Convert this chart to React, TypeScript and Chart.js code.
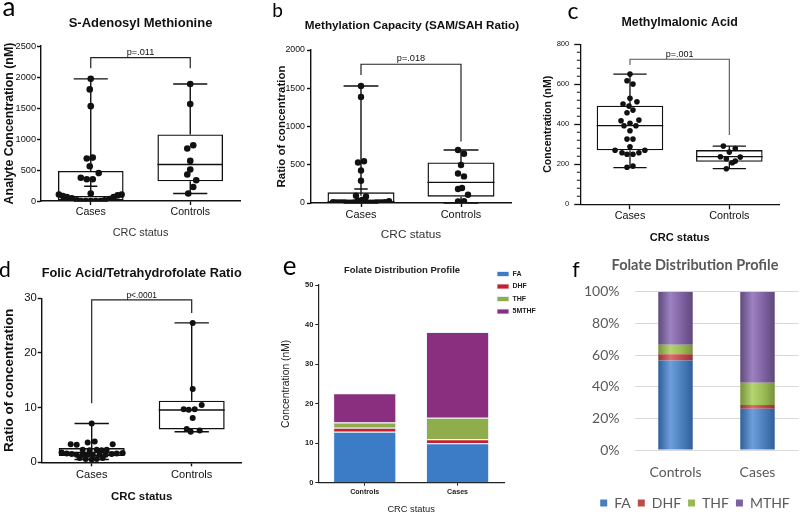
import React, { useEffect, useRef } from "react";
import { Chart, registerables } from "chart.js";

Chart.register(...registerables);

/* ======================= DATA ======================= */
const boxGroups = ["Cases", "Controls"];

// (a) S-Adenosyl Methionine, nM
const samCases = [1970, 1800, 1530, 700, 685, 560, 450, 375, 350, 350, 120, 103, 81, 65, 44, 11, 0, 0, 0, 0, 0, 11, 33, 65, 90, 103];
const samCasesJitter = [0, -0.01, 0, 0.02, -0.04, -0.01, 0.08, -0.1, -0.04, 0.02, 0, -0.32, -0.28, -0.24, -0.19, -0.14, -0.1, -0.05, 0, 0.05, 0.1, 0.14, 0.19, 0.23, 0.27, 0.31];
const samControls = [1886, 1563, 900, 847, 647, 507, 427, 334, 226, 120];
const samControlsJitter = [0, 0, 0.03, -0.03, 0, 0, -0.03, 0.06, 0.03, -0.02];
const samWhiskerLow = [0, 120];
const samQ1 = [8, 318];
const samMedian = [70, 588];
const samQ3 = [485, 1073];
const samWhiskerHigh = [1970, 1886];
const samMean = [237, null];
const samBracket = [2311, 2140, 2140];
const samP = "p=.011";
const samAxis = [0, 2500, 500];

// (b) Methylation capacity, SAM/SAH ratio
const ratioCases = [1530, 1387, 545, 530, 425, 290, 95, 85, 10, 8, 8, 6, 6, 5, 5, 8, 30, 12, 40, 25, 8, 5, 5, 6, 6, 8, 10, 25];
const ratioCasesJitter = [0, 0, 0.03, -0.03, 0, 0, -0.05, 0.05, -0.28, -0.25, -0.22, -0.19, -0.16, -0.13, -0.1, -0.07, -0.03, -0.02, 0.01, 0.04, 0.06, 0.09, 0.12, 0.15, 0.18, 0.21, 0.24, 0.28];
const ratioControls = [692, 643, 496, 386, 348, 183, 196, 108, 21, 25];
const ratioControlsJitter = [-0.03, 0.03, 0, -0.03, 0.03, -0.03, 0.01, 0.07, -0.03, 0.03];
const ratioWhiskerLow = [0, 0];
const ratioQ1 = [2, 82];
const ratioMedian = [15, 269];
const ratioQ3 = [140, 530];
const ratioWhiskerHigh = [1530, 692];
const ratioMean = [183, null];
const ratioBracket = [1814, 1674, 804];
const ratioP = "p=.018";
const ratioAxis = [0, 2000, 500];

// (c) Methylmalonic acid, nM
const mmaCases = [651, 618, 601, 530, 513, 501, 491, 471, 458, 421, 418, 405, 393, 393, 368, 326, 326, 288, 270, 270, 258, 258, 250, 250, 191, 185];
const mmaCasesJitter = [0, -0.03, 0.03, 0, 0.07, -0.07, -0.01, 0.03, -0.03, 0.09, -0.09, 0, -0.06, 0.06, 0, -0.03, 0.03, 0, -0.15, 0.15, -0.08, 0.09, -0.03, 0.03, 0.03, -0.03];
const mmaControls = [291, 279, 261, 238, 228, 236, 216, 208, 178];
const mmaControlsJitter = [-0.06, 0.06, 0, -0.09, -0.03, 0.11, 0.06, 0.03, -0.03];
const mmaWhiskerLow = [183, 178];
const mmaQ1 = [270, 213];
const mmaMedian = [393, 238];
const mmaQ3 = [493, 271];
const mmaWhiskerHigh = [651, 291];
const mmaMean = [null, null];
const mmaBracket = [725, 697, 347];
const mmaP = "p=.001";
const mmaAxis = [0, 800, 200];
const mmaMinorStep = 40;

// (d) Folic acid / tetrahydrofolate ratio
const fathfCases = [7.1, 3.3, 3.2, 3.6, 3.8, 3.3, 2.3, 2.2, 2.3, 2.2, 2.3, 1.8, 1.6, 1.5, 1.4, 1.4, 1.4, 1.4, 1.4, 1.4, 1.5, 1.6, 1.7, 0.8, 0.6, 0.5, 0.6, 0.8];
const fathfCasesJitter = [0, -0.21, -0.15, -0.04, 0.03, 0.21, -0.09, -0.02, 0.05, 0.1, 0.15, -0.3, -0.25, -0.2, -0.15, -0.09, -0.04, 0.01, 0.08, 0.14, 0.2, 0.25, 0.31, -0.12, -0.06, 0, 0.05, 0.11];
const fathfControls = [25.5, 13.4, 10.5, 9.7, 9.6, 9.7, 8.1, 6.1, 5.8, 5.6];
const fathfControlsJitter = [0.01, 0.01, 0.1, -0.08, -0.03, 0.03, 0.01, -0.05, 0.08, -0.01];
const fathfWhiskerLow = [0.5, 5.6];
const fathfQ1 = [1.15, 6.0];
const fathfMedian = [1.8, 9.57];
const fathfQ3 = [2.6, 11.27];
const fathfWhiskerHigh = [7.1, 25.5];
const fathfMean = [null, null];
const fathfBracket = [29.7, 10.8, 27.3];
const fathfP = "p<.0001";
const fathfAxis = [0, 30, 10];

// (e) Folate distribution profile, nM (stacked)
const folateGroups = ["Controls", "Cases"];
const folateFA = [12.9, 10.0];
const folateDHF = [1.0, 1.0];
const folateTHF = [1.3, 5.4];
const folate5MTHF = [7.4, 21.7];
const folateAxis = [0, 50, 10];

// (f) Folate distribution profile, % (100% stacked)
const pctFA = [56.5, 26];
const pctDHF = [4, 2.5];
const pctTHF = [6, 14];
const pctMTHF = [33.5, 57.5];
const pctAxis = [0, 100, 20];

/* ======================= FONTS ======================= */
const AR = "'Liberation Sans', Arial, Helvetica, sans-serif";
const LATO = "Lato, 'Open Sans', sans-serif";
Chart.defaults.font.family = AR;

let narrowOK: boolean | null = null;
function hasFont(name: string) {
  try {
    const ctx = document.createElement("canvas").getContext("2d");
    if (!ctx) return false;
    const sample = "mmmmmmmmmmlliWWabcdef0123456789";
    ctx.font = "40px monospace";
    const a = ctx.measureText(sample).width;
    ctx.font = `40px '${name}', monospace`;
    const b = ctx.measureText(sample).width;
    return Math.abs(a - b) > 0.5;
  } catch (e) {
    return false;
  }
}
function nf(size: number, weight = "normal") {
  if (narrowOK === null) narrowOK = hasFont("Liberation Sans Narrow");
  return narrowOK
    ? { family: "'Liberation Sans Narrow', " + AR, size, weight }
    : { family: AR, size: Math.round(size * 0.84 * 10) / 10, weight };
}
function af(size: number, weight = "normal") {
  return { family: AR, size, weight };
}
function lf(size: number, weight = "normal") {
  return { family: LATO, size, weight };
}
function css(f: any) {
  return `${f.weight || "normal"} ${f.size}px ${f.family}`;
}
function tpad(centerY: number, chartTop: number, f: any) {
  const h = f.size * 1.2;
  return { top: centerY - h / 2, bottom: chartTop - centerY - h / 2 };
}
const plain = (v: any) => String(v);

type TextItem = { text: string; x: number; y: number; font: any; color?: string; align?: CanvasTextAlign };

function textPlugin(items: TextItem[]) {
  return {
    id: "texts",
    afterDraw(chart: any) {
      const ctx = chart.ctx;
      ctx.save();
      items.forEach((it) => {
        ctx.font = css(it.font);
        ctx.fillStyle = it.color || "#000";
        ctx.textAlign = it.align || "center";
        ctx.textBaseline = "middle";
        ctx.fillText(it.text, it.x, it.y);
      });
      ctx.restore();
    },
  };
}

function spacer(width: number) {
  return {
    type: "linear",
    position: "right",
    display: true,
    grid: { display: false },
    border: { display: false },
    ticks: { display: false },
    afterFit: (sc: any) => {
      sc.width = width;
    },
  };
}

/* ======================= BOX PLOTS ======================= */
function boxDecor(d: any, s: any) {
  return {
    id: "boxDecor",
    beforeDatasetsDraw(chart: any) {
      const ctx = chart.ctx;
      const ys = chart.scales.y;
      const meta = chart.getDatasetMeta(0);
      const py = (v: number) => ys.getPixelForValue(v);
      ctx.save();
      ctx.strokeStyle = s.ink;
      ctx.lineWidth = s.lw;
      d.groups.forEach((_: string, i: number) => {
        const el = meta.data[i];
        if (!el) return;
        const cx = el.x;
        const w = el.width;
        const cap = w * s.capFrac;
        ctx.beginPath();
        ctx.moveTo(cx - w / 2, py(d.med[i]));
        ctx.lineTo(cx + w / 2, py(d.med[i]));
        ctx.moveTo(cx, py(d.q3[i]));
        ctx.lineTo(cx, py(d.hi[i]));
        ctx.moveTo(cx - cap / 2, py(d.hi[i]));
        ctx.lineTo(cx + cap / 2, py(d.hi[i]));
        ctx.moveTo(cx, py(d.q1[i]));
        ctx.lineTo(cx, py(d.lo[i]));
        ctx.moveTo(cx - cap / 2, py(d.lo[i]));
        ctx.lineTo(cx + cap / 2, py(d.lo[i]));
        const m = d.mean[i];
        if (m !== null && m !== undefined) {
          const h = w * 0.1;
          ctx.moveTo(cx - h, py(m));
          ctx.lineTo(cx + h, py(m));
          ctx.moveTo(cx, py(m) - h);
          ctx.lineTo(cx, py(m) + h);
        }
        ctx.stroke();
      });
      ctx.restore();
    },
    afterDatasetsDraw(chart: any) {
      const ctx = chart.ctx;
      const xs = chart.scales.x;
      const ys = chart.scales.y;
      const xl = xs.getPixelForValue(0);
      const xr = xs.getPixelForValue(1);
      const yb = ys.getPixelForValue(d.bracket[0]);
      ctx.save();
      ctx.strokeStyle = s.bracketColor;
      ctx.lineWidth = s.blw;
      ctx.beginPath();
      ctx.moveTo(xl, ys.getPixelForValue(d.bracket[1]));
      ctx.lineTo(xl, yb);
      ctx.lineTo(xr, yb);
      ctx.lineTo(xr, ys.getPixelForValue(d.bracket[2]));
      ctx.stroke();
      ctx.font = css(s.pFont);
      ctx.fillStyle = s.ink;
      ctx.textAlign = "center";
      ctx.textBaseline = "bottom";
      ctx.fillText(d.pText, (xl + xr) / 2, yb + s.pLift);
      if (d.minorStep) {
        const x0 = chart.chartArea.left;
        ctx.strokeStyle = s.ink;
        ctx.lineWidth = s.lw * 0.8;
        ctx.beginPath();
        for (let v = d.range[0]; v <= d.range[1]; v += d.minorStep) {
          if (v % d.range[2] === 0) continue;
          const y = ys.getPixelForValue(v);
          ctx.moveTo(x0 - 3.5, y);
          ctx.lineTo(x0, y);
        }
        ctx.stroke();
      }
      ctx.restore();
    },
  };
}

function makeBoxConfig(d: any, s: any) {
  const datasets: any[] = [
    {
      type: "bar",
      xAxisID: "x",
      yAxisID: "y",
      order: 2,
      grouped: false,
      data: d.q1.map((q: number, i: number) => [q, d.q3[i]]),
      backgroundColor: "rgba(0,0,0,0)",
      borderColor: s.ink,
      borderWidth: s.lw,
      borderSkipped: false,
      barPercentage: s.boxFrac,
      categoryPercentage: 1,
    },
  ];
  d.points.forEach((vals: number[], gi: number) => {
    datasets.push({
      type: "scatter",
      xAxisID: "xs",
      yAxisID: "y",
      order: 1,
      data: vals.map((v: number, j: number) => ({ x: gi + d.jitter[gi][j], y: v })),
      pointRadius: s.r,
      pointHoverRadius: s.r,
      backgroundColor: s.ink,
      borderWidth: 0,
    });
  });
  const scales: any = {
    x: {
      type: "category",
      offset: true,
      grid: { display: true, drawOnChartArea: false, drawTicks: true, tickLength: s.xTickLen, tickColor: s.ink, tickWidth: s.lw, offset: false },
      border: { display: true, color: s.ink, width: s.lw },
      ticks: { font: s.xTickFont, color: s.ink, padding: s.xTickPad, maxRotation: 0, autoSkip: false },
      title: { display: true, text: d.xTitle, font: s.xTitleFont, color: s.xTitleColor, padding: { top: 0, bottom: 0 } },
      afterFit: (sc: any) => {
        sc.height = s.xH;
      },
    },
    xs: { type: "linear", display: false, offset: false, min: -0.5, max: 1.5 },
    y: {
      type: "linear",
      min: d.range[0],
      max: d.range[1],
      ticks: { stepSize: d.range[2], font: s.yTickFont, color: s.ink, padding: s.yTickPad, callback: plain },
      grid: { display: true, drawOnChartArea: false, drawTicks: true, tickLength: s.yTickLen, tickColor: s.ink, tickWidth: s.lw },
      border: { display: true, color: s.ink, width: s.lw },
      title: { display: true, text: d.yTitle, font: s.yTitleFont, color: s.ink, padding: { top: s.yTitlePad, bottom: 0 } },
      afterFit: (sc: any) => {
        sc.width = s.yW;
      },
    },
  };
  if (s.rightW) scales.yr = spacer(s.rightW);
  return {
    type: "bar",
    data: { labels: d.groups, datasets },
    options: {
      responsive: false,
      animation: false,
      events: [],
      layout: { padding: s.pad },
      plugins: {
        legend: { display: false },
        tooltip: { enabled: false },
        title: {
          display: true,
          text: d.title,
          fullSize: !!s.titleFull,
          font: s.titleFont,
          color: s.ink,
          padding: tpad(s.titleY, s.chartTop, s.titleFont),
        },
      },
      scales,
    },
    plugins: [boxDecor(d, s), textPlugin(s.texts)],
  };
}

function makeA() {
  const d = {
    title: "S-Adenosyl Methionine",
    yTitle: "Analyte Concentration (nM)",
    xTitle: "CRC status",
    groups: boxGroups,
    points: [samCases, samControls],
    jitter: [samCasesJitter, samControlsJitter],
    lo: samWhiskerLow, q1: samQ1, med: samMedian, q3: samQ3, hi: samWhiskerHigh, mean: samMean,
    bracket: samBracket, pText: samP, range: samAxis,
  };
  const s = {
    pad: { left: 2, right: 20, top: 0, bottom: 10 },
    chartTop: 46, titleY: 23, titleFont: af(13, "bold"),
    yW: 39, yTickFont: nf(11), yTickLen: 4, yTickPad: 1, yTitleFont: af(12.4, "bold"), yTitlePad: 0.5,
    xH: 39, xTickFont: nf(12.6), xTickLen: 4, xTickPad: 1, xTitleFont: nf(13), xTitleColor: "#333",
    lw: 1.4, blw: 1.2, r: 3.3, boxFrac: 0.66, capFrac: 0.52, ink: "#111", bracketColor: "#222",
    pFont: nf(11), pLift: -1,
    texts: [{ text: "a", x: 9, y: 8, font: lf(26) }],
  };
  return makeBoxConfig(d, s);
}

function makeB() {
  const d = {
    title: "Methylation Capacity (SAM/SAH Ratio)",
    yTitle: "Ratio of concentration",
    xTitle: "CRC status",
    groups: boxGroups,
    points: [ratioCases, ratioControls],
    jitter: [ratioCasesJitter, ratioControlsJitter],
    lo: ratioWhiskerLow, q1: ratioQ1, med: ratioMedian, q3: ratioQ3, hi: ratioWhiskerHigh, mean: ratioMean,
    bracket: ratioBracket, pText: ratioP, range: ratioAxis,
  };
  const s = {
    pad: { left: 2, right: 0, top: 0, bottom: 8 },
    rightW: 49, titleFull: true,
    chartTop: 50, titleY: 26, titleFont: af(11.7, "bold"),
    yW: 47, yTickFont: nf(10.5), yTickLen: 4, yTickPad: 2, yTitleFont: af(11.5, "bold"), yTitlePad: 10.8,
    xH: 39, xTickFont: nf(13), xTickLen: 4, xTickPad: 1.9, xTitleFont: nf(14), xTitleColor: "#333",
    lw: 1.4, blw: 1.2, r: 3.2, boxFrac: 0.67, capFrac: 0.52, ink: "#111", bracketColor: "#222",
    pFont: nf(11), pLift: -1,
    texts: [{ text: "b", x: 15.5, y: 11, font: lf(19) }],
  };
  return makeBoxConfig(d, s);
}

function makeC() {
  const d = {
    title: "Methylmalonic Acid",
    yTitle: "Concentration (nM)",
    xTitle: "CRC status",
    groups: boxGroups,
    points: [mmaCases, mmaControls],
    jitter: [mmaCasesJitter, mmaControlsJitter],
    lo: mmaWhiskerLow, q1: mmaQ1, med: mmaMedian, q3: mmaQ3, hi: mmaWhiskerHigh, mean: mmaMean,
    bracket: mmaBracket, pText: mmaP, range: mmaAxis, minorStep: mmaMinorStep,
  };
  const s = {
    pad: { left: 2, right: 21, top: 0, bottom: 5.3 },
    chartTop: 44.3, titleY: 23, titleFont: af(12.4, "bold"),
    yW: 60.3, yTickFont: nf(9), yTickLen: 6, yTickPad: 5, yTitleFont: af(10.6, "bold"), yTitlePad: 21.6,
    xH: 40.4, xTickFont: af(10.8), xTickLen: 5, xTickPad: 0, xTitleFont: af(11.1, "bold"), xTitleColor: "#111",
    lw: 1.3, blw: 1.1, r: 2.8, boxFrac: 0.67, capFrac: 0.5, ink: "#111", bracketColor: "#555",
    pFont: af(9), pLift: 0,
    texts: [{ text: "c", x: 55, y: 12, font: lf(23) }],
  };
  return makeBoxConfig(d, s);
}

function makeD() {
  const tf = nf(15.5, "bold");
  const d = {
    title: "Folic Acid/Tetrahydrofolate Ratio",
    yTitle: "Ratio of concentration",
    xTitle: "CRC status",
    groups: boxGroups,
    points: [fathfCases, fathfControls],
    jitter: [fathfCasesJitter, fathfControlsJitter],
    lo: fathfWhiskerLow, q1: fathfQ1, med: fathfMedian, q3: fathfQ3, hi: fathfWhiskerHigh, mean: fathfMean,
    bracket: fathfBracket, pText: fathfP, range: fathfAxis,
  };
  const s = {
    pad: { left: 0, right: 18.3, top: 0, bottom: 11.8 },
    chartTop: 48.3, titleY: 23.3, titleFont: tf,
    yW: 41.7, yTickFont: nf(13.5), yTickLen: 4, yTickPad: 1, yTitleFont: af(13.5, "bold"), yTitlePad: 1,
    xH: 40.9, xTickFont: nf(13.2), xTickLen: 4, xTickPad: 1.7, xTitleFont: nf(13.6, "bold"), xTitleColor: "#111",
    lw: 1.4, blw: 1.2, r: 3, boxFrac: 0.66, capFrac: 0.52, ink: "#111", bracketColor: "#222",
    pFont: nf(10), pLift: 0,
    texts: [{ text: "d", x: 5, y: 20, font: lf(21) }],
  };
  return makeBoxConfig(d, s);
}

/* ======================= STACKED BARS ======================= */
function legendMover(left: number, top: number) {
  return {
    id: "legendMover",
    afterLayout(chart: any) {
      const lg = chart.legend;
      if (!lg) return;
      lg.left = left;
      lg.right = chart.width;
      lg.top = top;
      lg.bottom = chart.height;
      lg.width = lg.right - lg.left;
      lg.height = lg.bottom - lg.top;
    },
  };
}

function makeE() {
  const titleFont = af(9.5, "bold");
  const ink = "#222";
  const mk = (label: string, data: number[], color: string) => ({
    label, data, backgroundColor: color, borderColor: "rgba(235,242,252,0.85)", borderWidth: 1,
    barPercentage: 0.68, categoryPercentage: 1, xAxisID: "x", yAxisID: "y",
  });
  return {
    type: "bar",
    data: {
      labels: folateGroups,
      datasets: [
        mk("FA", folateFA, "#3c7cc6"),
        mk("DHF", folateDHF, "#c4202e"),
        mk("THF", folateTHF, "#90ad4b"),
        mk("5MTHF", folate5MTHF, "#8a2f80"),
      ],
    },
    options: {
      responsive: false,
      animation: false,
      events: [],
      layout: { padding: { left: 2, right: 0, top: 0, bottom: 0 } },
      plugins: {
        tooltip: { enabled: false },
        title: { display: true, text: "Folate Distribution Profile", font: titleFont, color: ink, padding: tpad(20, 35, titleFont) },
        legend: {
          display: true,
          position: "chartArea",
          align: "start",
          labels: { boxWidth: 12, boxHeight: 5, padding: 5.5, font: af(7, "bold"), color: ink },
        },
      },
      scales: {
        x: {
          stacked: true,
          grid: { display: true, drawOnChartArea: false, drawTicks: true, tickLength: 3, tickColor: ink, offset: false },
          border: { display: true, color: ink, width: 1.2 },
          ticks: { font: af(7.1, "bold"), color: ink, padding: 1.7, maxRotation: 0 },
          title: { display: true, text: "CRC status", font: af(9.3), color: ink, padding: { top: 0, bottom: 0 } },
          afterFit: (sc: any) => {
            sc.height = 32.3;
          },
        },
        y: {
          stacked: true,
          min: folateAxis[0],
          max: folateAxis[1],
          ticks: { stepSize: folateAxis[2], font: af(7.5, "bold"), color: ink, padding: 2, callback: plain },
          grid: { display: true, drawOnChartArea: false, drawTicks: true, tickLength: 3, tickColor: ink },
          border: { display: true, color: ink, width: 1.2 },
          title: { display: true, text: "Concentration (nM)", font: af(10.3), color: ink, padding: { top: 15.8, bottom: 0 } },
          afterFit: (sc: any) => {
            sc.width = 54.3;
          },
        },
        yr: spacer(36),
      },
    },
    plugins: [legendMover(229.5, 15), textPlugin([{ text: "e", x: 27.5, y: 17, font: lf(26) }])],
  };
}

function bevel(base: string, light: string, dark: string, barPct: number) {
  return (c: any) => {
    if (!c || c.type !== "data") return base;
    const chart = c.chart;
    const xs = chart.scales && chart.scales.x;
    if (!xs || !chart.chartArea) return base;
    const cx = xs.getPixelForValue(c.dataIndex);
    const half = ((xs.width / xs.getLabels().length) * barPct) / 2;
    if (!isFinite(cx) || !isFinite(half) || half <= 0) return base;
    const g = chart.ctx.createLinearGradient(cx - half, 0, cx + half, 0);
    g.addColorStop(0, dark);
    g.addColorStop(0.35, light);
    g.addColorStop(0.7, base);
    g.addColorStop(1, dark);
    return g;
  };
}

function makeF() {
  const gray = "#595959";
  const pct = 0.42;
  const fills = [
    ["FA", pctFA, "#4a7ebb", "#6d9edb", "#2f5f9a"],
    ["DHF", pctDHF, "#be4b48", "#da6f6c", "#943634"],
    ["THF", pctTHF, "#98b954", "#b6d572", "#76923c"],
    ["MTHF", pctMTHF, "#7d60a0", "#9d82c2", "#5f497a"],
  ] as any[];
  const titleFont = lf(14.5, "bold");
  return {
    type: "bar",
    data: {
      labels: folateGroups,
      datasets: fills.map((f) => ({
        label: f[0], data: f[1], backgroundColor: bevel(f[2], f[3], f[4], pct), borderWidth: 0,
        barPercentage: pct, categoryPercentage: 1, xAxisID: "x", yAxisID: "y",
      })),
    },
    options: {
      responsive: false,
      animation: false,
      events: [],
      layout: { padding: { left: 20, right: 0, top: 0, bottom: 0 } },
      plugins: {
        tooltip: { enabled: false },
        title: { display: true, text: "Folate Distribution Profile", font: titleFont, color: gray, padding: tpad(15, 41.7, titleFont) },
        legend: {
          display: true,
          position: "bottom",
          labels: {
            boxWidth: 7, boxHeight: 7, padding: 7, font: lf(14), color: gray,
            generateLabels: (chart: any) =>
              Chart.defaults.plugins.legend.labels.generateLabels(chart).map((l: any, i: number) => ({
                ...l, fillStyle: fills[i][2], strokeStyle: fills[i][2], lineWidth: 0,
              })),
          },
        },
      },
      scales: {
        x: {
          stacked: true,
          grid: { display: false },
          border: { display: false },
          ticks: { font: lf(14), color: gray, padding: 6, maxRotation: 0 },
          afterFit: (sc: any) => {
            sc.height = 39;
          },
        },
        y: {
          stacked: true,
          min: pctAxis[0],
          max: pctAxis[1],
          ticks: { stepSize: pctAxis[2], font: lf(14), color: gray, padding: 15, callback: (v: any) => v + "%" },
          grid: { color: "#d9d9d9", drawTicks: false, lineWidth: 1 },
          border: { display: false },
          afterFit: (sc: any) => {
            sc.width = 54.5;
          },
        },
        yr: spacer(11.5),
      },
    },
    plugins: [textPlugin([{ text: "f", x: 16, y: 20, font: lf(21) }])],
  };
}

/* ======================= COMPONENTS ======================= */
function ChartBox(props: { left: number; top: number; width: number; height: number; make: () => any }) {
  const ref = useRef<HTMLCanvasElement | null>(null);
  useEffect(() => {
    if (!ref.current) return;
    const chart = new Chart(ref.current, props.make());
    return () => chart.destroy();
  }, []);
  return (
    <canvas
      ref={ref}
      width={props.width}
      height={props.height}
      style={{ position: "absolute", left: props.left, top: props.top, width: props.width, height: props.height, display: "block" }}
    />
  );
}

export default function App() {
  return (
    <div style={{ position: "fixed", left: 0, top: 0, width: 800, height: 515, background: "#fff", overflow: "hidden" }}>
      <ChartBox left={0} top={0} width={260} height={250} make={makeA} />
      <ChartBox left={518} top={0} width={282} height={250} make={makeC} />
      <ChartBox left={262} top={0} width={298} height={250} make={makeB} />
      <ChartBox left={0} top={250} width={260} height={265} make={makeD} />
      <ChartBox left={262} top={250} width={278} height={265} make={makeE} />
      <ChartBox left={560} top={250} width={250} height={270} make={makeF} />
    </div>
  );
}
